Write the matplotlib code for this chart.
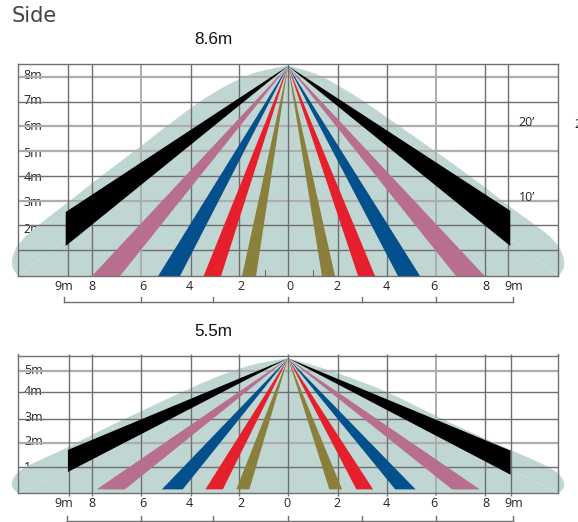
import matplotlib
matplotlib.use("Agg")
import matplotlib.pyplot as plt
from matplotlib.path import Path
from matplotlib.patches import PathPatch

W, H = 578, 522

LOBE = "#c0d6d3"
DARK = "#6f6f6f"
LIGHT = "#adadad"
BAND_COLORS = ["#8a7f3b", "#e61f2d", "#04508c", "#b76e8f", "#000000"]

x_tick_pos_a = [-9.1, -7.97, -5.9, -4.0, -1.9, 0.06, 2.0, 4.0, 5.95, 8.05, 9.2]
x_tick_pos_b = [-9.1, -7.97, -5.9, -4.0, -1.9, -0.05, 2.0, 4.0, 5.95, 8.05, 9.2]
x_tick_labels = ["9m", "8", "6", "4", "2", "0", "2", "4", "6", "8", "9m"]

# top chart (8.6 m)
a_apex = 8.47
a_hlines = [1.05, 2.04, 3.03, 4.03, 5.03, 6.03, 7.03, 8.02]
a_hlight = [False, False, True, False, True, True, False, True]
a_vlines = [-8.96, -7.97, -5.96, -3.95, -1.99, 2.03, 4.02, 6.02, 8.0, 8.96]
a_vlight = [False, False, True, False, False, False, False, True, False, False]
a_ylabels = ["8m", "7m", "6m", "5m", "4m", "3m", "2m"]
a_ylabel_y = [8.1, 7.06, 6.01, 4.96, 3.99, 2.98, 1.89]
a_left_x = [0, -1.0, -1.95, -2.9, -3.71, -4.93, -6.02, -7.64, -9.0, -10.08, -10.89, -11.17, -11.25, -11.14, -10.96]
a_left_y = [8.48, 8.33, 7.97, 7.47, 6.96, 6.05, 5.21, 4.0, 2.93, 2.12, 1.42, 0.92, 0.51, 0.17, 0]
a_right_x = [0, 1.02, 2.03, 3.12, 4.07, 6.03, 8.0, 9.01, 10.16, 10.84, 11.18, 11.25, 11.18, 11.0]
a_right_y = [8.48, 8.24, 7.7, 7.03, 6.36, 5.01, 3.6, 2.79, 1.99, 1.45, 0.92, 0.44, 0.21, 0]
# bands: (inner x, outer x) on the floor, left then right
a_olive = [(-1.3, -1.87), (1.38, 1.91)]
a_red = [(-2.72, -3.43), (2.85, 3.54)]
a_blue = [(-4.39, -5.28), (4.47, 5.37)]
a_pink = [(-6.83, -7.97), (6.83, 8.0)]
a_black_x = [-9.04, 9.04]
a_black_lo = [1.21, 1.21]
a_black_hi = [2.58, 2.63]
a_floor = 0.0
a_bracket = [-9.09, -5.99, -3.05, 0, 3.0, 6.02, 9.17]

# bottom chart (5.5 m)
b_apex = 5.51
b_hlines = [1.06, 2.06, 3.02, 4.12, 4.99]
b_hlight = [False, True, False, False, True]
b_vlines = [-8.9, -7.99, -5.96, -3.95, -1.99, 2.03, 4.02, 6.02, 8.0, 9.05]
b_vlight = [False, False, False, False, False, False, False, True, False, False]
b_ylabels = ["5m", "4m", "3m", "2m", "1m"]
b_ylabel_y = [5.03, 4.15, 3.1, 2.13, 1.07]
b_left_x = [0, -1.0, -1.95, -2.9, -4.13, -6.02, -7.64, -8.93, -10.08, -10.89, -11.19, -11.25, -11.14, -10.96]
b_left_y = [5.51, 5.37, 5.1, 4.76, 4.22, 3.33, 2.56, 1.88, 1.36, 0.98, 0.61, 0.34, 0.11, 0]
b_right_x = [0, 1.02, 2.03, 4.07, 6.03, 8.0, 9.05, 10.16, 10.84, 11.18, 11.25, 11.18, 11.0]
b_right_y = [5.51, 5.24, 4.9, 4.15, 3.13, 2.24, 1.77, 1.29, 0.95, 0.61, 0.34, 0.14, 0]
b_olive = [(-1.57, -2.1), (1.68, 2.2)]
b_red = [(-2.65, -3.36), (2.78, 3.46)]
b_blue = [(-4.28, -5.13), (4.36, 5.19)]
b_pink = [(-6.63, -7.78), (6.67, 7.8)]
b_black_x = [-8.95, 9.05]
b_black_lo = [0.87, 0.76]
b_black_hi = [1.77, 1.74]
b_floor = 0.16
b_bracket = [-9.0, -5.99, -3.05, 0, 3.0, 6.02, 9.17]

plt.rcParams["font.family"] = ["Open Sans", "DejaVu Sans"]
fig = plt.figure(figsize=(W / 100, H / 100), dpi=100)


def make_axes(left, right, top, bottom):
    return fig.add_axes([left / W, 1 - bottom / H, (right - left) / W, (bottom - top) / H])


def smooth_patch(xs, ys):
    """Closed smooth outline through quadratic segments."""
    verts = [(xs[0], ys[0])]
    codes = [Path.MOVETO]
    for i in range(1, len(xs) - 1):
        end = ((xs[i] + xs[i + 1]) / 2, (ys[i] + ys[i + 1]) / 2)
        if i == len(xs) - 2:
            end = (xs[i + 1], ys[i + 1])
        verts += [(xs[i], ys[i]), end]
        codes += [Path.CURVE3, Path.CURVE3]
    verts.append(verts[0])
    codes.append(Path.CLOSEPOLY)
    return Path(verts, codes)


def panel(ax, xlim, ylim, apex, hlines, hlight, vlines, vlight, ylabels, ylabel_y, ylabel_x,
          lx, ly, rx, ry, bands, bx, blo, bhi, floor, bracket, br_y, ticks, over):
    ax.set_xlim(*xlim)
    ax.set_ylim(*ylim)
    ax.set_facecolor("none")
    for s in ax.spines.values():
        s.set_color(DARK)
        s.set_linewidth(1.0)
        s.set_zorder(3)
    ax.set_yticks([])
    ax.set_xticks(ticks, x_tick_labels, fontsize=9, color="#222222")
    ax.tick_params(axis="x", length=0, pad=3)

    for lab, y in zip(ylabels, ylabel_y):
        ax.text(ylabel_x, y, lab, fontsize=9, color="#222222", ha="center", va="center", zorder=1)

    ax.add_patch(PathPatch(smooth_patch(lx, ly), fc=LOBE, ec="none", zorder=2, clip_on=False))
    ax.add_patch(PathPatch(smooth_patch(rx, ry), fc=LOBE, ec="none", zorder=2, clip_on=False))
    ax.fill([lx[0], lx[-1], rx[-1]], [ly[0], 0, 0], color=LOBE, lw=0, zorder=2)

    for y, light in zip(hlines, hlight):
        ax.axhline(y, color=LIGHT if light else DARK, lw=1.6 if light else 1.0, zorder=3)
    for x, light in zip(vlines, vlight):
        ax.plot([x, x], [ylim[0] - over, ylim[1] + over], color=LIGHT if light else DARK,
                lw=1.4 if light else 1.0, zorder=3, clip_on=False, solid_capstyle="butt")
    ax.plot([0, 0], [ylim[0] - over, ylim[1] + over], color=DARK, lw=1.0, zorder=3,
            clip_on=False, solid_capstyle="butt")

    for color, pair in zip(BAND_COLORS[:4], bands):
        for inner, outer in pair:
            ax.fill([0, inner, outer], [apex, floor, floor], color=color, lw=0, zorder=4)
    for i in range(2):
        ax.fill([0, bx[i], bx[i]], [apex, bhi[i], blo[i]], color=BAND_COLORS[4], lw=0, zorder=4)

    ax.plot([bracket[0], bracket[-1]], [br_y, br_y], color=DARK, lw=1.0, clip_on=False, zorder=3)
    for x in bracket:
        ax.plot([x, x], [br_y, br_y + 0.18], color=DARK, lw=1.0, clip_on=False, zorder=3)


ax_a = make_axes(18, 558, 64, 276)
panel(ax_a, (-10.98, 10.98), (0, 8.55), a_apex, a_hlines, a_hlight, a_vlines, a_vlight,
      a_ylabels, a_ylabel_y, -10.38, a_left_x, a_left_y, a_right_x, a_right_y,
      [a_olive, a_red, a_blue, a_pink], a_black_x, a_black_lo, a_black_hi, a_floor,
      a_bracket, -1.04, x_tick_pos_a, 0.0)
for x in [-0.95, 1.0]:
    ax_a.plot([x, x], [0, 0.25], color=DARK, lw=0.8, zorder=3)

ax_b = make_axes(18, 558, 356.3, 493.3)
panel(ax_b, (-10.98, 10.98), (0, 5.59), b_apex, b_hlines, b_hlight, b_vlines, b_vlight,
      b_ylabels, b_ylabel_y, -10.35, b_left_x, b_left_y, b_right_x, b_right_y,
      [b_olive, b_red, b_blue, b_pink], b_black_x, b_black_lo, b_black_hi, b_floor,
      b_bracket, -1.12, x_tick_pos_b, 0.1)
ax_b.plot([-10.98, -10.98], [5.59, 5.69], color=DARK, lw=1, clip_on=False)
ax_b.plot([10.98, 10.98], [5.59, 5.69], color=DARK, lw=1, clip_on=False)

fig.text(12 / W, 1 - 16 / H, "Side", fontsize=15, family="DejaVu Sans", color="#444444", va="center", ha="left")
fig.text(213 / W, 1 - 39 / H, "8.6m", fontsize=12.3, family="Liberation Sans", color="#111111", va="center", ha="center")
fig.text(213.5 / W, 1 - 332 / H, "5.5m", fontsize=12.3, family="Liberation Sans", color="#111111", va="center", ha="center")
fig.text(527 / W, 1 - 122 / H, "20\u2019", fontsize=9, color="#222222", va="center", ha="center")
fig.text(527.5 / W, 1 - 197 / H, "10\u2019", fontsize=9, color="#222222", va="center", ha="center")
fig.text(574 / W, 1 - 125 / H, "2", fontsize=9, color="#222222", va="center", ha="left")

fig.savefig("out.png", dpi=100)
